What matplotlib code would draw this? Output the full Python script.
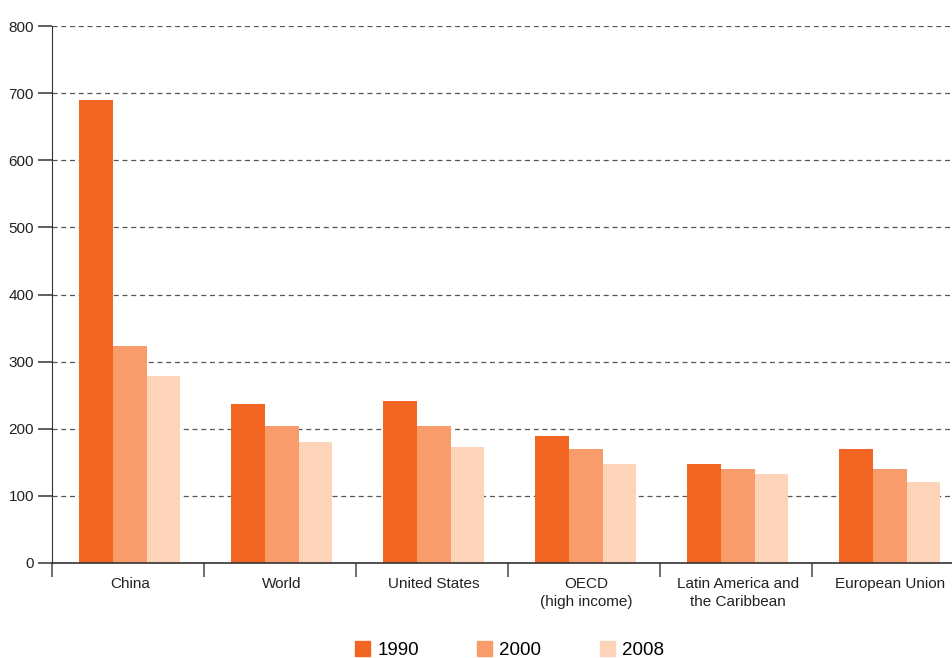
import matplotlib.pyplot as plt
import numpy as np
from matplotlib.patches import Patch

plt.rcParams['font.family'] = ['Liberation Sans', 'DejaVu Sans']

categories = ['China', 'World', 'United States', 'OECD\n(high income)',
              'Latin America and\nthe Caribbean', 'European Union']
years = ['1990', '2000', '2008']
v1990 = [690, 237, 241, 189, 148, 170]
v2000 = [323, 204, 204, 170, 140, 140]
v2008 = [279, 180, 173, 148, 133, 121]
colors = ['#F26522', '#F89C6C', '#FDD4BA']

fig = plt.figure(figsize=(9.52, 6.58), dpi=100)
ax = fig.add_axes([52 / 952, 1 - 563 / 658, 1 - 52 / 952, (563 - 26) / 658])

x = np.arange(len(categories)) + 0.512
w = 0.2215
for k, vals in enumerate([v1990, v2000, v2008]):
    ax.bar(x + (k - 1) * w, vals, width=w, color=colors[k], zorder=3)

ax.set_yticks(np.arange(0, 801, 100))
ax.yaxis.grid(True, linestyle=(0, (4, 3)), color='#555555', linewidth=0.9, zorder=0)
ax.tick_params(axis='y', length=10, width=1.2, color='#444444', labelsize=11,
               labelcolor='#222222', pad=3)

ax.set_xticks(np.arange(0, len(categories)))
ax.set_xticklabels([])
ax.tick_params(axis='x', which='major', length=10, width=1.2, color='#555555')
ax.set_xticks(x, minor=True)
ax.set_xticklabels(categories, minor=True, fontsize=11, color='#222222',
                   linespacing=1.35)
ax.tick_params(axis='x', which='minor', length=0, pad=10)

ax.set_ylim(0, 800)
ax.set_xlim(0, (952 - 52) / 152)

for s in ['top', 'right']:
    ax.spines[s].set_visible(False)
ax.spines['left'].set_color('#333333')
ax.spines['bottom'].set_color('#333333')
ax.spines['bottom'].set_linewidth(1.2)
ax.spines['bottom'].set_zorder(4)

handles = [Patch(color=c, label=y) for c, y in zip(colors, years)]
fig.legend(handles=handles, loc='center', bbox_to_anchor=(0.535, 1 - 650 / 658),
           ncol=3, frameon=False, fontsize=13.5, handlelength=0.8,
           handleheight=0.8, handletextpad=0.4, columnspacing=3.1)

fig.savefig('out.png', dpi=100)
